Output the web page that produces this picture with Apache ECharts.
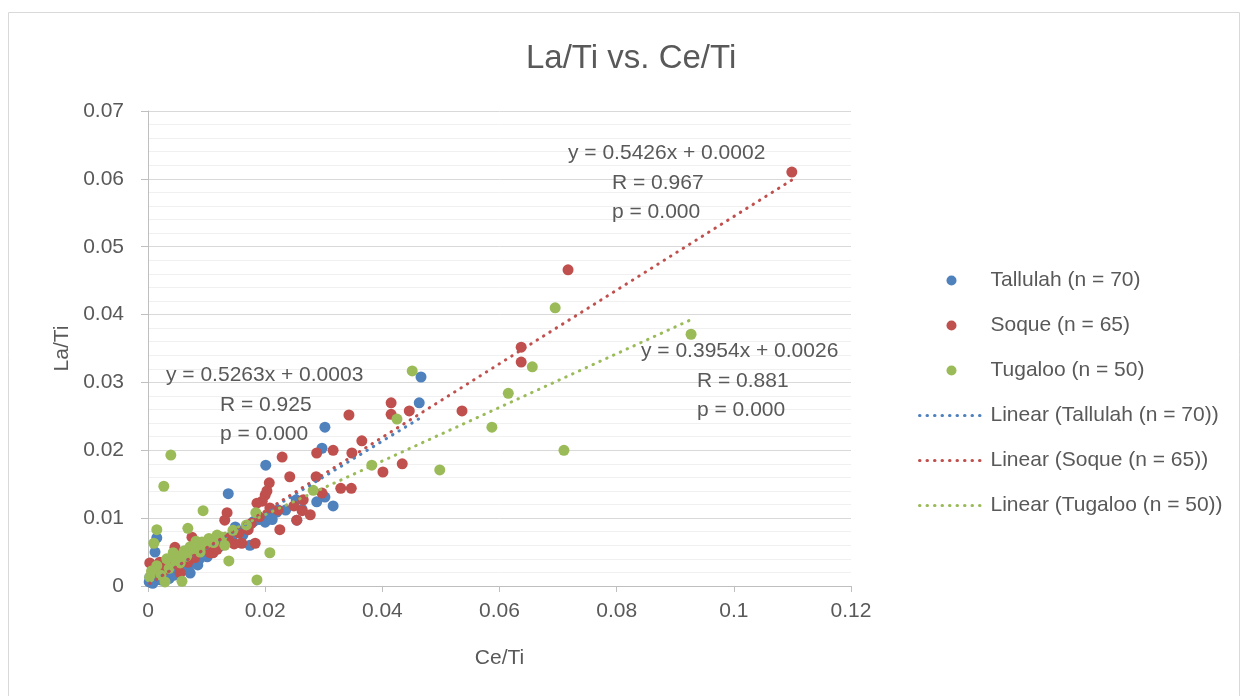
<!DOCTYPE html>
<html>
<head>
<meta charset="utf-8">
<script src="https://cdn.jsdelivr.net/npm/echarts@6/dist/echarts.min.js"></script>
<style>
  html, body { margin: 0; padding: 0; background: #ffffff; }
  #chart { width: 1246px; height: 696px; }
</style>
</head>
<body>
<div id="chart"></div>
<script>
// Ce/Ti (x) and La/Ti (y) ratios for each river system
const tallulahCe = [0.0466, 0.0463, 0.0302, 0.0297, 0.0201, 0.0137, 0.0302, 0.0316, 0.0288, 0.0254,
  0.0263, 0.0200, 0.0149, 0.0162, 0.0174, 0.0220, 0.0253, 0.0145, 0.0015, 0.0012,
  0.0085, 0.0002, 0.0020, 0.0043, 0.0072, 0.0060, 0.0075, 0.0101, 0.0005, 0.0008,
  0.0010, 0.0012, 0.0016, 0.0018, 0.0022, 0.0025, 0.0028, 0.0030, 0.0034, 0.0036,
  0.0040, 0.0045, 0.0048, 0.0052, 0.0055, 0.0058, 0.0063, 0.0066, 0.0069, 0.0078,
  0.0082, 0.0088, 0.0092, 0.0096, 0.0105, 0.0110, 0.0116, 0.0122, 0.0128, 0.0133,
  0.0140, 0.0152, 0.0168, 0.0180, 0.0190, 0.0207, 0.0212, 0.0235, 0.0157, 0.0003];
const tallulahLa = [0.0308, 0.0270, 0.0234, 0.0203, 0.0178, 0.0136, 0.0131, 0.0118, 0.0124, 0.0097,
  0.0113, 0.0094, 0.0087, 0.0075, 0.0060, 0.0109, 0.0127, 0.0065, 0.0071, 0.0050,
  0.0031, 0.0006, 0.0016, 0.0021, 0.0019, 0.0041, 0.0049, 0.0043, 0.0010, 0.0004,
  0.0018, 0.0008, 0.0012, 0.0024, 0.0009, 0.0020, 0.0014, 0.0026, 0.0018, 0.0011,
  0.0028, 0.0016, 0.0030, 0.0024, 0.0034, 0.0027, 0.0032, 0.0038, 0.0025, 0.0036,
  0.0044, 0.0040, 0.0052, 0.0047, 0.0056, 0.0050, 0.0062, 0.0058, 0.0068, 0.0064,
  0.0072, 0.0082, 0.0088, 0.0095, 0.0098, 0.0104, 0.0098, 0.0112, 0.0078, 0.0013];

const soqueCe = [0.1099, 0.0717, 0.0637, 0.0637, 0.0536, 0.0446, 0.0415, 0.0415, 0.0401, 0.0434,
  0.0343, 0.0365, 0.0348, 0.0316, 0.0288, 0.0329, 0.0347, 0.0287, 0.0297, 0.0265,
  0.0263, 0.0277, 0.0249, 0.0242, 0.0229, 0.0207, 0.0200, 0.0195, 0.0186, 0.0135,
  0.0131, 0.0222, 0.0225, 0.0183, 0.0171, 0.0160, 0.0147, 0.0111, 0.0208, 0.0046,
  0.0020, 0.0003, 0.0068, 0.0106, 0.0034, 0.0055, 0.0007, 0.0075, 0.0203, 0.0254,
  0.0012, 0.0026, 0.0040, 0.0052, 0.0060, 0.0080, 0.0088, 0.0095, 0.0102, 0.0118,
  0.0124, 0.0136, 0.0155, 0.0176, 0.0190];
const soqueLa = [0.0610, 0.0466, 0.0352, 0.0330, 0.0258, 0.0258, 0.0270, 0.0253, 0.0168, 0.0180,
  0.0252, 0.0214, 0.0196, 0.0200, 0.0196, 0.0144, 0.0144, 0.0161, 0.0137, 0.0127,
  0.0111, 0.0105, 0.0118, 0.0161, 0.0190, 0.0152, 0.0134, 0.0125, 0.0122, 0.0108,
  0.0097, 0.0112, 0.0083, 0.0063, 0.0083, 0.0063, 0.0062, 0.0049, 0.0115, 0.0057,
  0.0035, 0.0034, 0.0035, 0.0049, 0.0034, 0.0019, 0.0019, 0.0072, 0.0140, 0.0097,
  0.0026, 0.0022, 0.0040, 0.0030, 0.0046, 0.0042, 0.0052, 0.0058, 0.0062, 0.0054,
  0.0066, 0.0070, 0.0078, 0.0092, 0.0102];

const tugalooCe = [0.0927, 0.0695, 0.0656, 0.0615, 0.0587, 0.0710, 0.0498, 0.0451, 0.0425, 0.0382,
  0.0282, 0.0039, 0.0027, 0.0094, 0.0138, 0.0186, 0.0208, 0.0184, 0.0131, 0.0109,
  0.0015, 0.0068, 0.0010, 0.0043, 0.0085, 0.0055, 0.0029, 0.0058, 0.0003, 0.0118,
  0.0092, 0.0089, 0.0006, 0.0015, 0.0022, 0.0032, 0.0036, 0.0048, 0.0052, 0.0062,
  0.0066, 0.0072, 0.0078, 0.0082, 0.0098, 0.0104, 0.0112, 0.0126, 0.0145, 0.0168];
const tugalooLa = [0.0371, 0.0410, 0.0323, 0.0284, 0.0234, 0.0200, 0.0171, 0.0317, 0.0246, 0.0178,
  0.0141, 0.0193, 0.0147, 0.0111, 0.0037, 0.0009, 0.0049, 0.0108, 0.0060, 0.0068,
  0.0083, 0.0085, 0.0063, 0.0049, 0.0060, 0.0034, 0.0006, 0.0007, 0.0013, 0.0075,
  0.0065, 0.0050, 0.0022, 0.0030, 0.0016, 0.0040, 0.0026, 0.0036, 0.0044, 0.0052,
  0.0044, 0.0058, 0.0054, 0.0066, 0.0062, 0.0070, 0.0064, 0.0072, 0.0082, 0.0090];

// Series names and fitted regression statistics
const seriesNames = ['Tallulah (n = 70)', 'Soque (n = 65)', 'Tugaloo (n = 50)'];
const slopes = [0.5263, 0.5426, 0.3954];
const intercepts = [0.0003, 0.0002, 0.0026];
const rValues = ['0.925', '0.967', '0.881'];
const pValues = ['0.000', '0.000', '0.000'];
const colors = ['#4F81BD', '#C0504D', '#9BBB59'];

// Axis tick settings
const xTicks = { min: 0, max: 0.12, interval: 0.02 };
const yTicks = { min: 0, max: 0.07, interval: 0.01 };

const xs = [tallulahCe, soqueCe, tugalooCe];
const ys = [tallulahLa, soqueLa, tugalooLa];

const FONT = '"Liberation Sans", Arial, sans-serif';
const TXT = '#595959';

const scatterSeries = xs.map((xArr, i) => ({
  name: seriesNames[i],
  type: 'scatter',
  symbol: 'circle',
  symbolSize: 11,
  itemStyle: { color: colors[i], opacity: 1 },
  data: xArr.map((x, k) => [x, ys[i][k]]),
  z: 2
}));

const dotted = { width: 3, type: [0.5, 7], cap: 'round' };

// Linear trendlines spanning each series' x range
const trendSeries = xs.map((xArr, i) => {
  const lo = Math.min(...xArr), hi = Math.max(...xArr);
  return {
    name: 'Linear (' + seriesNames[i] + ')',
    type: 'line',
    showSymbol: false,
    symbol: 'none',
    silent: true,
    color: colors[i],
    lineStyle: Object.assign({ color: colors[i] }, dotted),
    data: [[lo, slopes[i] * lo + intercepts[i]], [hi, slopes[i] * hi + intercepts[i]]],
    z: 3
  };
});

function fmt(v) { return v.toFixed(4); }
function annot(lines, left, top, gap) {
  return lines.map((t, j) => ({
    type: 'text',
    left: left[j],
    top: top + j * gap,
    z: 10,
    style: { text: t, font: '21px ' + FONT, fill: TXT }
  }));
}

const eqText = i => 'y = ' + fmt(slopes[i]) + 'x + ' + fmt(intercepts[i]);

const legendData = seriesNames.map(n => ({ name: n }))
  .concat(seriesNames.map((n, i) => ({
    name: 'Linear (' + n + ')',
    itemStyle: { opacity: 0 },
    lineStyle: Object.assign({ color: colors[i] }, dotted)
  })));

const chart = echarts.init(document.getElementById('chart'), null, { renderer: 'canvas' });
chart.setOption({
  backgroundColor: '#ffffff',
  animation: false,
  title: {
    text: 'La/Ti vs. Ce/Ti',
    left: 526,
    top: 42,
    padding: 0,
    textStyle: { fontFamily: FONT, fontSize: 33, fontWeight: 'normal', color: TXT }
  },
  grid: { left: 148, right: 395, top: 111, bottom: 110, containLabel: false },
  legend: {
    orient: 'vertical',
    left: 913,
    top: 265,
    itemWidth: 64,
    itemHeight: 10,
    itemGap: 24,
    textStyle: { fontFamily: FONT, fontSize: 21, color: TXT, lineHeight: 21, padding: [0, 0, 0, 2] },
    data: legendData
  },
  xAxis: {
    type: 'value',
    min: xTicks.min, max: xTicks.max, interval: xTicks.interval,
    name: 'Ce/Ti',
    nameLocation: 'middle',
    nameGap: 62,
    nameTextStyle: { fontFamily: FONT, fontSize: 21, color: TXT },
    axisLine: { show: true, lineStyle: { color: '#bfbfbf', width: 1 } },
    axisTick: { show: true, length: 6, lineStyle: { color: '#bfbfbf' } },
    axisLabel: { fontFamily: FONT, fontSize: 21, color: TXT, margin: 15 },
    splitLine: { show: false }
  },
  yAxis: {
    type: 'value',
    min: yTicks.min, max: yTicks.max, interval: yTicks.interval,
    name: 'La/Ti',
    nameLocation: 'middle',
    nameGap: 74,
    nameTextStyle: { fontFamily: FONT, fontSize: 21, color: TXT },
    axisLine: { show: true, lineStyle: { color: '#bfbfbf', width: 1 } },
    axisTick: { show: true, length: 7, lineStyle: { color: '#bfbfbf' } },
    axisLabel: { fontFamily: FONT, fontSize: 21, color: TXT, margin: 24 },
    splitLine: { show: true, lineStyle: { color: '#d9d9d9', width: 1 } },
    minorTick: { show: false, splitNumber: 5 },
    minorSplitLine: { show: true, lineStyle: { color: '#f0f0f0', width: 1 } }
  },
  graphic: [
    {
      type: 'rect', z: 0, silent: true,
      shape: { x: 8.5, y: 12.5, width: 1231, height: 700 },
      style: { fill: 'none', stroke: '#d9d9d9', lineWidth: 1 }
    }
  ]
    .concat(annot([eqText(1), 'R = ' + rValues[1], 'p = ' + pValues[1]], [568, 612, 612], 143, 29.5))
    .concat(annot([eqText(0), 'R = ' + rValues[0], 'p = ' + pValues[0]], [166, 220, 220], 365, 29.5))
    .concat(annot([eqText(2), 'R = ' + rValues[2], 'p = ' + pValues[2]], [641, 697, 697], 341, 29.5)),
  series: scatterSeries.concat(trendSeries)
});
</script>
</body>
</html>
